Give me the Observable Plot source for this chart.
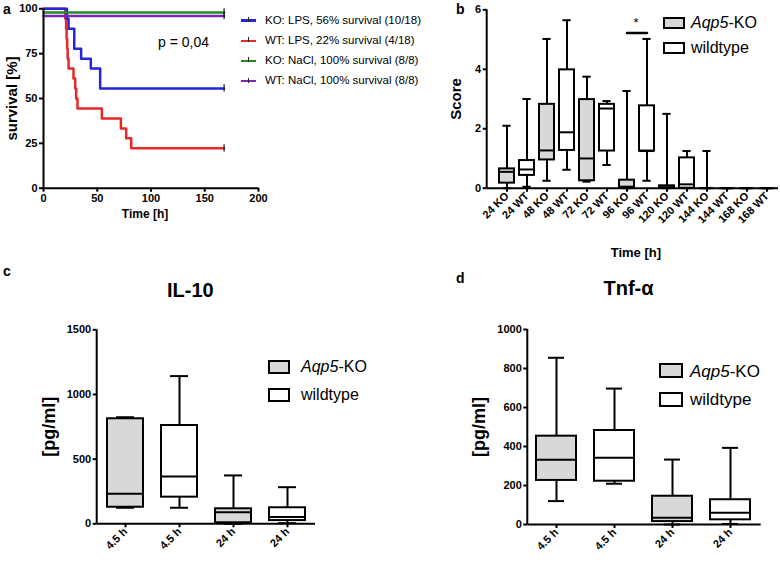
<!DOCTYPE html>
<html>
<head>
<meta charset="utf-8">
<script src="https://cdn.jsdelivr.net/npm/d3@7"></script>
<script src="https://cdn.jsdelivr.net/npm/@observablehq/plot@0.6"></script>
<style>
  body { margin: 0; background: white; }
  #wrap { position: relative; width: 780px; height: 562px; overflow: hidden; font-family: 'Liberation Sans', Arial, Helvetica, sans-serif; color: black; }
  .abs { position: absolute; }
  .mid { transform: translateY(-50%); white-space: nowrap; line-height: 1; }
  .legbox { position: absolute; border: 2.5px solid black; box-sizing: border-box; }
</style>
</head>
<body>
<div id="wrap">
  <div id="pa" class="abs" style="left:0;top:0"></div>
  <div id="pb" class="abs" style="left:450px;top:0"></div>
  <div id="pc" class="abs" style="left:0;top:262px"></div>
  <div id="pd" class="abs" style="left:390px;top:262px"></div>
</div>
<script>
// ---------------- Panel a: survival ----------------
const survGroups = ["KO: LPS, 56% survival (10/18)", "WT: LPS, 22% survival (4/18)", "KO: NaCl, 100% survival (8/8)", "WT: NaCl, 100% survival (8/8)"];
const survColors = ["#2626d6", "#e62828", "#248a24", "#7a28b2"];
const koLpsTime = [0, 21.8, 23.3, 28.6, 35, 44, 52.7, 168];
const koLpsSurv = [100, 94.4, 88.9, 77.8, 72.2, 66.7, 55.6, 55.6];
const wtLpsTime = [0, 20.2, 21, 21.5, 22, 22.5, 23.3, 27.9, 29.5, 30.4, 31.6, 54.3, 72, 76.9, 81.6, 168];
const wtLpsSurv = [100, 94.4, 88.9, 83.3, 77.8, 72.2, 66.7, 61.1, 55.6, 50, 44.4, 38.9, 33.3, 27.8, 22.2, 22.2];
const koNaclTime = [0, 168];
const koNaclSurv = [98, 98];
const wtNaclTime = [0, 168];
const wtNaclSurv = [96, 96];
const aXTicks = [0, 50, 100, 150, 200];
const aYTicks = [0, 25, 50, 75, 100];
const pValueText = "p = 0,04";

// ---------------- Panel b: score ----------------
const bCats = ["24 KO", "24 WT", "48 KO", "48 WT", "72 KO", "72 WT", "96 KO", "96 WT", "120 KO", "120 WT", "144 KO", "144 WT", "168 KO", "168 WT"];
const bMin = [0, 0.05, 0.25, 0.62, 0.22, 0.78, 0, 0.25, 0, 0, 0, 0, 0, 0];
const bQ1  = [0.17, 0.43, 0.95, 1.27, 0.25, 1.25, 0, 1.25, 0, 0, 0, 0, 0, 0];
const bMed = [0.55, 0.63, 1.27, 1.88, 1.0, 2.68, 0.05, 1.25, 0.03, 0.13, 0, 0, 0, 0];
const bQ3  = [0.65, 0.93, 2.82, 3.98, 2.98, 2.82, 0.27, 2.77, 0.08, 1.02, 0, 0, 0, 0];
const bMax = [2.1, 3.0, 5.02, 5.65, 3.75, 2.93, 3.27, 5.02, 2.5, 1.25, 1.25, 0, 0, 0];
const bYTicks = [0, 2, 4, 6];
const sigPair = ["96 KO", "96 WT"];
const sigLevel = 5.22;
const sigLabel = "*";

// ---------------- Panels c, d: cytokines ----------------
const cytoIds = ["KO 4.5 h", "WT 4.5 h", "KO 24 h", "WT 24 h"];
const cytoLabels = ["4.5 h", "4.5 h", "24 h", "24 h"];
const il10Min = [124, 124, 0, 5];
const il10Q1  = [128, 206, 8, 25];
const il10Med = [232, 366, 90, 52];
const il10Q3  = [812, 760, 116, 124];
const il10Max = [824, 1142, 374, 283];
const il10YTicks = [0, 500, 1000, 1500];
const tnfMin = [120, 209, 0, 3];
const tnfQ1  = [226, 222, 15, 24];
const tnfMed = [332, 342, 34, 60];
const tnfQ3  = [453, 482, 145, 127];
const tnfMax = [855, 697, 333, 393];
const tnfYTicks = [0, 200, 400, 600, 800, 1000];

const groupNames = ["Aqp5-KO", "wildtype"];
const KO_FILL = "#d8d8d8";
const WT_FILL = "#ffffff";

const FONT = "'Liberation Sans', Arial, Helvetica, sans-serif";
const baseStyle = `font-family:${FONT};font-size:11px;font-weight:bold;background:transparent;overflow:visible;color:black;`;
const plain = d => String(d);

// left axis line drawn from the frame dimensions
function leftAxisLine(index, scales, values, dims) {
  const l = document.createElementNS("http://www.w3.org/2000/svg", "line");
  l.setAttribute("x1", dims.marginLeft); l.setAttribute("x2", dims.marginLeft);
  l.setAttribute("y1", dims.marginTop); l.setAttribute("y2", dims.height - dims.marginBottom);
  l.setAttribute("stroke", "black"); l.setAttribute("stroke-width", 2);
  return l;
}

// ---- Panel a plot ----
const survSeries = [[wtLpsTime, wtLpsSurv, 1], [koLpsTime, koLpsSurv, 0], [koNaclTime, koNaclSurv, 2], [wtNaclTime, wtNaclSurv, 3]];
const survData = [];
const censor = [];
survSeries.forEach(([t, s, gi]) => {
  t.forEach((tt, j) => survData.push({t: tt, s: s[j], g: survGroups[gi]}));
  censor.push({t: t[t.length - 1], s: s[s.length - 1]});
});

const plotA = Plot.plot({
  width: 270, height: 225,
  marginLeft: 43, marginRight: 12, marginTop: 8.3, marginBottom: 37.3,
  style: baseStyle,
  x: {domain: [0, 200]},
  y: {domain: [0, 100]},
  color: {domain: survGroups, range: survColors},
  marks: [
    Plot.axisX({ticks: aXTicks, tickFormat: plain, tickSize: 4, tickPadding: 2, strokeWidth: 2, label: null, fontSize: 11}),
    Plot.axisY({ticks: aYTicks, tickFormat: plain, tickSize: 4, tickPadding: 2, strokeWidth: 2, label: null, fontSize: 11}),
    Plot.line(survData, {x: "t", y: "s", z: "g", stroke: "g", curve: "step-after", strokeWidth: 2.5}),
    Plot.ruleX(censor, {x: "t", y1: d => d.s - 2, y2: d => d.s + 2, stroke: "#222", strokeWidth: 1.3}),
    Plot.ruleY([0], {strokeWidth: 2}),
    Plot.ruleX([0], {strokeWidth: 2}),
    Plot.text(["Time [h]"], {text: d => d, frameAnchor: "bottom", textAnchor: "middle", lineAnchor: "middle", dy: 26, dx: -6, fontSize: 12, fontWeight: "bold"}),
    Plot.text(["survival [%]"], {text: d => d, frameAnchor: "left", textAnchor: "middle", lineAnchor: "middle", rotate: -90, dx: -31, fontSize: 15, fontWeight: "bold"})
  ]
});
document.getElementById("pa").append(plotA);

// ---- Box plot helper ----
function boxPlot(o) {
  const rows = o.ids.map((id, i) => ({id, g: id.includes("KO") ? "KO" : "WT", min: o.min[i], q1: o.q1[i], med: o.med[i], q3: o.q3[i], max: o.max[i]}));
  return Plot.plot({
    width: o.width, height: o.height,
    marginLeft: o.ml, marginRight: o.mr, marginTop: o.mt, marginBottom: o.mb,
    style: baseStyle,
    x: {type: "band", domain: o.ids, range: o.xRange, padding: o.padding},
    y: {domain: o.yDomain},
    marks: [
      Plot.ruleX(rows, {x: "id", y1: "min", y2: "max", strokeWidth: 2}),
      Plot.tickY(rows, {x: "id", y: "max", strokeWidth: 2, insetLeft: o.cap, insetRight: o.cap}),
      Plot.tickY(rows, {x: "id", y: "min", strokeWidth: 2, insetLeft: o.cap, insetRight: o.cap}),
      Plot.barY(rows, {x: "id", y1: "q1", y2: "q3", fill: d => d.g === "KO" ? KO_FILL : WT_FILL, stroke: "black", strokeWidth: 2}),
      Plot.tickY(rows, {x: "id", y: "med", strokeWidth: 2}),
      Plot.axisX({tickRotate: -45, tickSize: 4, tickPadding: 2, strokeWidth: 2, label: null, fontSize: 11, tickFormat: o.tickFormat}),
      Plot.axisY({ticks: o.yTicks, tickFormat: plain, tickSize: 4, tickPadding: 2, strokeWidth: 2, label: null, fontSize: 11}),
      Plot.ruleY([0], {strokeWidth: 2}),
      leftAxisLine,
      ...o.extra
    ]
  });
}

// ---- Panel b ----
const plotB = boxPlot({
  ids: bCats, min: bMin, q1: bQ1, med: bMed, q3: bQ3, max: bMax,
  width: 330, height: 262, ml: 36.7, mr: 2, mt: 9.3, mb: 74.3,
  xRange: [42.7, 330.5], padding: 0.27, yDomain: [0, 6], yTicks: bYTicks, cap: 3.4,
  tickFormat: plain,
  extra: [
    Plot.line(sigPair.map(c => ({c, y: sigLevel})), {x: "c", y: "y", strokeWidth: 2.5}),
    Plot.text([sigLabel], {text: d => d, x: () => sigPair[0], y: () => sigLevel, dx: 9, dy: -10, fontSize: 13, fontWeight: "normal"}),
    Plot.text(["Time [h]"], {text: d => d, frameAnchor: "bottom", textAnchor: "middle", lineAnchor: "middle", dy: 65, dx: 3, fontSize: 13, fontWeight: "bold"}),
    Plot.text(["Score"], {text: d => d, frameAnchor: "left", textAnchor: "middle", lineAnchor: "middle", rotate: -90, dx: -31, fontSize: 15, fontWeight: "bold"})
  ]
});
document.getElementById("pb").append(plotB);

// ---- Panel c ----
const cytoLabelOf = Object.fromEntries(cytoIds.map((id, i) => [id, cytoLabels[i]]));
const plotC = boxPlot({
  ids: cytoIds, min: il10Min, q1: il10Q1, med: il10Med, q3: il10Q3, max: il10Max,
  width: 390, height: 300, ml: 96.7, mr: 75, mt: 67.3, mb: 38.7,
  xRange: [87.7, 324.7], padding: 0.325, yDomain: [0, 1500], yTicks: il10YTicks, cap: 9,
  tickFormat: d => cytoLabelOf[d],
  extra: [
    Plot.text(["IL-10"], {text: d => d, frameAnchor: "top", textAnchor: "middle", lineAnchor: "middle", dx: -16, dy: -39, fontSize: 20, fontWeight: "bold"}),
    Plot.text(["[pg/ml]"], {text: d => d, frameAnchor: "left", textAnchor: "middle", lineAnchor: "middle", rotate: -90, dx: -48, fontSize: 18, fontWeight: "bold"})
  ]
});
document.getElementById("pc").append(plotC);

// ---- Panel d ----
const plotD = boxPlot({
  ids: cytoIds, min: tnfMin, q1: tnfQ1, med: tnfMed, q3: tnfQ3, max: tnfMax,
  width: 390, height: 300, ml: 137.3, mr: 19.3, mt: 67, mb: 38,
  xRange: [127.4, 378.9], padding: 0.314, yDomain: [0, 1000], yTicks: tnfYTicks, cap: 12,
  tickFormat: d => cytoLabelOf[d],
  extra: [
    Plot.text(["Tnf-α"], {text: d => d, frameAnchor: "top", textAnchor: "middle", lineAnchor: "middle", dx: -16, dy: -41, fontSize: 20, fontWeight: "bold"}),
    Plot.text(["[pg/ml]"], {text: d => d, frameAnchor: "left", textAnchor: "middle", lineAnchor: "middle", rotate: -90, dx: -49, fontSize: 18, fontWeight: "bold"})
  ]
});
document.getElementById("pd").append(plotD);

// ---------------- HTML annotations ----------------
const wrap = document.getElementById("wrap");
function addText(html, left, cy, css) {
  const d = document.createElement("div");
  d.className = "abs mid";
  d.style.left = left + "px";
  d.style.top = cy + "px";
  d.style.cssText += css || "";
  d.innerHTML = html;
  wrap.append(d);
  return d;
}
// panel letters
addText("a", 3, 9, "font-weight:bold;font-size:14px;");
addText("b", 456, 9, "font-weight:bold;font-size:14px;");
addText("c", 3, 271, "font-weight:bold;font-size:14px;");
addText("d", 456, 278, "font-weight:bold;font-size:14px;");
// p value
addText(pValueText, 158, 42, "font-size:14px;");
// survival legend
survGroups.forEach((g, i) => {
  const cy = 20.7 + i * 20.1;
  const line = document.createElement("div");
  line.className = "abs";
  line.style.cssText = `left:241px;top:${cy - 1.25}px;width:15px;height:2.5px;background:${survColors[i]};`;
  wrap.append(line);
  const tick = document.createElement("div");
  tick.className = "abs";
  tick.style.cssText = `left:248px;top:${cy - 3.5}px;width:1.3px;height:5px;background:#222;`;
  wrap.append(tick);
  addText(g, 265, cy, "font-size:11.5px;");
});
// box legends
function boxLegend(boxLeft, boxW, boxH, rows, textLeft, fontSize) {
  groupNames.forEach((name, i) => {
    const cy = rows[i];
    const b = document.createElement("div");
    b.className = "legbox";
    b.style.cssText += `left:${boxLeft}px;top:${cy - boxH / 2}px;width:${boxW}px;height:${boxH}px;background:${i === 0 ? KO_FILL : WT_FILL};`;
    wrap.append(b);
    const label = name === "Aqp5-KO" ? "<i>Aqp5</i>-KO" : name;
    addText(label, textLeft, cy, `font-size:${fontSize}px;`);
  });
}
boxLegend(663, 22, 12, [23, 47.5], 691, 16);
boxLegend(268, 22, 14, [367, 395], 301, 16);
boxLegend(659, 24, 15, [370.5, 399], 690, 17);
</script>
</body>
</html>
